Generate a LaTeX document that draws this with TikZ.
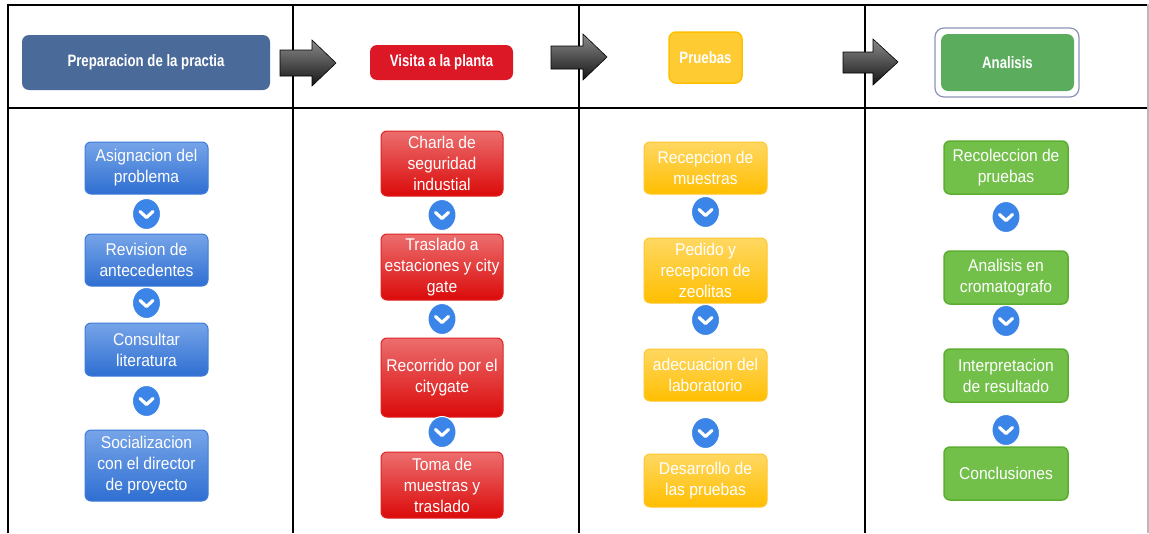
\documentclass[tikz,border=0pt]{standalone}
\usepackage{fontspec}
\setmainfont{Liberation Sans}[FakeStretch=0.92]
\newfontfamily\headfont{Liberation Sans}[FakeStretch=0.8]
\usetikzlibrary{shapes.geometric}
\definecolor{blueTop}{HTML}{76A4E8}
\definecolor{blueBot}{HTML}{2F6FD2}
\definecolor{blueLine}{HTML}{3E7BDA}
\definecolor{redTop}{HTML}{EC6E6E}
\definecolor{redBot}{HTML}{DB0A0A}
\definecolor{redLine}{HTML}{E02424}
\definecolor{yelTop}{HTML}{FFD862}
\definecolor{yelBot}{HTML}{FFBE00}
\definecolor{yelLine}{HTML}{FFC62A}
\definecolor{grnFill}{HTML}{72C049}
\definecolor{grnLine}{HTML}{5BAE30}
\definecolor{chevBlue}{HTML}{3B84E8}
\definecolor{hdBlue}{HTML}{4A6B99}
\definecolor{hdRed}{HTML}{DC1826}
\definecolor{hdYel}{HTML}{FFCB33}
\definecolor{hdYelLine}{HTML}{FFBF00}
\definecolor{hdGrn}{HTML}{5BAD5D}
\definecolor{hdGrnOuter}{HTML}{8C94B6}
\definecolor{arrTop}{HTML}{8A8A8A}
\definecolor{arrBot}{HTML}{151515}
\tikzset{
  box/.style={rounded corners=6pt, minimum width=123pt, align=center, text=white,
    font=\fontsize{17}{21}\selectfont, inner sep=2pt, line width=1pt},
  bluebox/.style={box, draw=blueLine, top color=blueTop, bottom color=blueBot},
  redbox/.style={box, draw=redLine, top color=redTop, bottom color=redBot},
  yelbox/.style={box, draw=yelLine, top color=yelTop, bottom color=yelBot},
  grnbox/.style={box, draw=grnLine, fill=grnFill, line width=1.5pt},
  head/.style={rounded corners=7pt, align=center, text=white, inner sep=0pt,
    font=\headfont\bfseries\fontsize{16.5}{20}\selectfont},
  chev/.style={ellipse, fill=chevBlue, draw=white, line width=1pt,
    minimum width=28pt, minimum height=31pt, inner sep=0pt,
    path picture={\draw[white,line width=3.2pt,line cap=round,line join=round]
      ([xshift=-6.5pt,yshift=2.5pt]path picture bounding box.center) --
      ([yshift=-3.5pt]path picture bounding box.center) --
      ([xshift=6.5pt,yshift=2.5pt]path picture bounding box.center);}},
  grid/.style={line width=2pt, black},
  bigarrow/.style={draw=black, line width=0.6pt, top color=arrTop, bottom color=arrBot}
}
\begin{document}
\begin{tikzpicture}[x=1pt,y=-1pt]
\useasboundingbox (0,0) rectangle (1149,533);
\fill[white] (0,0) rectangle (1149,533);
% table
\draw[grid] (8,533) -- (8,5);
\draw[line width=2.6pt] (7,5) -- (1148,5);
\draw[grid] (8,108) -- (1148,108);
\draw[grid] (293,5) -- (293,533);
\draw[grid] (579,5) -- (579,533);
\draw[grid] (865,5) -- (865,533);
\draw[gray!55, line width=1.2pt] (1148,4) -- (1148,533);
% header
\node[head, fill=hdBlue, minimum width=248pt, minimum height=55pt] (h1) at (146,62.5) {Preparacion de la practia};
\node[head, fill=hdRed, minimum width=143pt, minimum height=35pt] (h2) at (441.5,62.5) {Visita a la planta};
\node[head, fill=hdYel, draw=hdYelLine, line width=1.5pt, minimum width=73pt, minimum height=51pt] (h3) at (705.5,57.5) {Pruebas};
\node[rounded corners=9pt, draw=hdGrnOuter, line width=1.2pt, fill=white, minimum width=144pt, minimum height=69pt] (h4o) at (1007,62.5) {};
\node[head, fill=hdGrn, minimum width=133pt, minimum height=57pt] (h4) at (1007.5,62.5) {Analisis};
% big arrows
\path[bigarrow] (280,50) -- (312,50) -- (312,40) -- (336,63) -- (312,86) -- (312,76) -- (280,76) -- cycle;
\path[bigarrow] (551,46) -- (583,46) -- (583,34) -- (607,57) -- (583,80) -- (583,69) -- (551,69) -- cycle;
\path[bigarrow] (843,52) -- (873,52) -- (873,39) -- (898,62) -- (873,85) -- (873,73) -- (843,73) -- cycle;
% column 1
\node[bluebox, minimum height=52pt] (b1) at (146.5,168) {Asignacion del\\problema};
\node[bluebox, minimum height=52pt] (b2) at (146.5,260) {Revision de\\antecedentes};
\node[bluebox, minimum height=53pt] (b3) at (146.5,349.5) {Consultar\\literatura};
\node[bluebox, minimum height=71pt] (b4) at (146.5,465.5) {Socializacion\\con el director\\de proyecto};
\node[chev] (cb1) at (146.5,214) {};
\node[chev] (cb2) at (146.5,303) {};
\node[chev] (cb3) at (146.5,401) {};
% column 2
\node[redbox, minimum width=122pt, minimum height=65pt] (r1) at (442,163.5) {Charla de\\seguridad\\industial};
\node[redbox, minimum width=122pt, minimum height=66pt] (r2) at (442,267) {Traslado a\\estaciones y city\\gate};
\node[redbox, minimum width=122pt, minimum height=79pt] (r3) at (442,377.5) {Recorrido por el\\citygate};
\node[redbox, minimum width=122pt, minimum height=66pt] (r4) at (442,485) {Toma de\\muestras y\\traslado};
\node[chev] (cr1) at (442,215) {};
\node[chev] (cr2) at (442,319) {};
\node[chev] (cr3) at (442,432) {};
% column 3
\node[yelbox, minimum height=52pt] (y1) at (705.5,168) {Recepcion de\\muestras};
\node[yelbox, minimum height=65pt] (y2) at (705.5,270.5) {Pedido y\\recepcion de\\zeolitas};
\node[yelbox, minimum height=52pt] (y3) at (705.5,375) {adecuacion del\\laboratorio};
\node[yelbox, minimum height=53pt] (y4) at (705.5,480.5) {Desarrollo de\\las pruebas};
\node[chev] (cy1) at (705.5,212) {};
\node[chev] (cy2) at (705.5,320) {};
\node[chev] (cy3) at (705.5,433) {};
% column 4
\node[grnbox, minimum width=124pt, minimum height=53pt] (g1) at (1006,167.5) {Recoleccion de\\pruebas};
\node[grnbox, minimum width=124pt, minimum height=53pt] (g2) at (1006,277.5) {Analisis en\\cromatografo};
\node[grnbox, minimum width=124pt, minimum height=53pt] (g3) at (1006,375.5) {Interpretacion\\de resultado};
\node[grnbox, minimum width=124pt, minimum height=53pt] (g4) at (1006,473.5) {Conclusiones};
\node[chev] (cg1) at (1006,217) {};
\node[chev] (cg2) at (1006,321) {};
\node[chev] (cg3) at (1006,430) {};
\end{tikzpicture}
\end{document}
